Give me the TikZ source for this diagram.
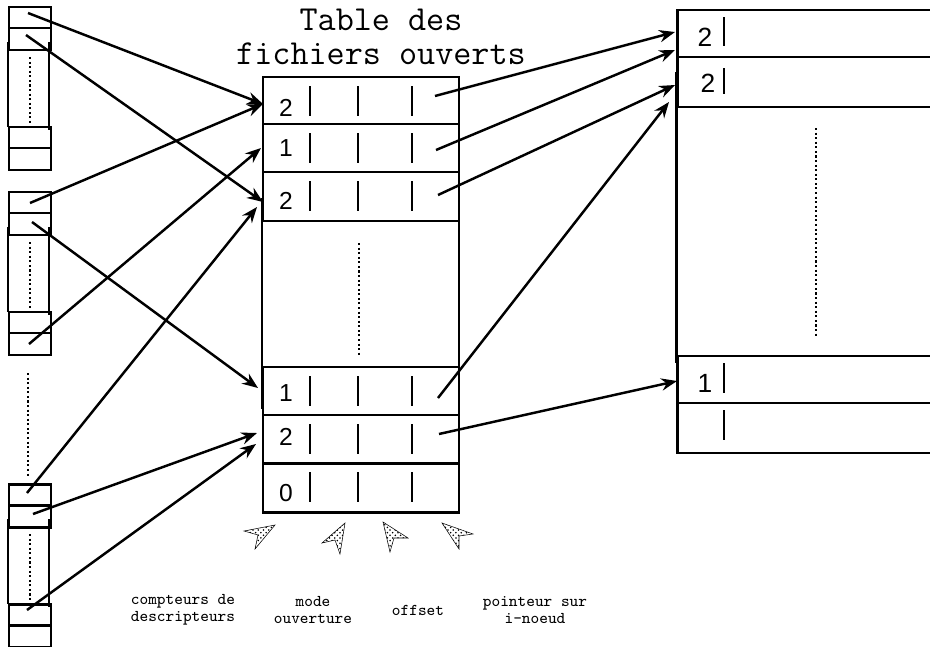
\documentclass[tikz,border=0pt]{standalone}
\usepackage{fontspec}
\setsansfont{Liberation Sans}
\usetikzlibrary{arrows.meta,patterns}

\begin{document}
\begin{tikzpicture}[x=0.02cm,y=-0.02cm,
    trait/.style={line width=1.7pt},
    fleche/.style={line width=1.4pt,-{Stealth[length=9pt,width=7pt,inset=3pt]}},
    barre/.style={line width=1.2pt},
    pointille/.style={line width=1.3pt,dash pattern=on 1.2pt off 1.4pt},
    pointe/.style={draw,line width=0.3pt,pattern=crosshatch dots},
    compteur/.style={font=\sffamily\fontsize{14}{14}\selectfont},
    legende/.style={font=\ttfamily\fontsize{9.4}{9.4}\selectfont,align=center}]
    \useasboundingbox (0,0) rectangle (930,646);

    % tables des descripteurs
    \foreach \y in {7,192,484}{
        \draw[trait] (9,\y) rectangle (51,\y+21) (9,\y+21) rectangle (51,\y+43)
            (9,\y+120) rectangle (51,\y+141) (9,\y+141) rectangle (51,\y+163);
        \draw[trait] (8,\y+35) -- (8,\y+120) (49,\y+35) -- (49,\y+123);
        \draw[pointille] (30,\y+50) -- (30,\y+116);
    }
    \draw[pointille] (28,373) -- (28,478);

    % table des fichiers ouverts
    \node[font=\ttfamily\fontsize{20}{19.5}\selectfont,align=center] (titre) at (381,37) {Table des\\fichiers ouverts};
    \draw[trait] (262,198) -- (262,409) (459,198) -- (459,409);
    \foreach \a/\b in {77/124,124/172,172/221,367/415,415/463,463/512}{
        \draw[trait] (263,\a) rectangle (459,\b);
        \foreach \x in {310,358,412} \draw[barre] (\x,\a+9) -- (\x,\a+39);
    }
    \draw[pointille] (359,243) -- (359,355);
    \node[compteur] (c1) at (286,108) {2};
    \node[compteur] (c2) at (286,148) {1};
    \node[compteur] (c3) at (286,201) {2};
    \node[compteur] (c5) at (286,393) {1};
    \node[compteur] (c6) at (286,437) {2};
    \node[compteur] (c7) at (286,493) {0};

    % table des i-noeuds
    \draw[trait] (677,10) rectangle (940,57) (677,57) rectangle (940,107)
        (677,356) rectangle (940,403) (677,403) rectangle (940,453);
    \draw[trait] (676,72) -- (676,363);
    \foreach \a/\b in {17/46,68/94,363/393,410/440} \draw[barre] (724,\a) -- (724,\b);
    \draw[pointille] (816,128) -- (816,338);
    \node[compteur,font=\sffamily\fontsize{15}{15}\selectfont] (n1) at (705,37) {2};
    \node[compteur,font=\sffamily\fontsize{15}{15}\selectfont] (n2) at (708,83) {2};
    \node[compteur,font=\sffamily\fontsize{15}{15}\selectfont] (n3) at (705,383) {1};

    % descripteurs -> fichiers ouverts
    \coordinate (d1a) at (28,13);  \coordinate (d1b) at (26,35);
    \coordinate (d2a) at (30,203); \coordinate (d2b) at (32,222); \coordinate (d2c) at (29,344);
    \coordinate (d3a) at (27,493); \coordinate (d3b) at (33,514); \coordinate (d3c) at (27,610);
    \coordinate (f1) at (263,104); \coordinate (f2) at (261,148);
    \coordinate (f3a) at (263,202); \coordinate (f3b) at (257,207);
    \coordinate (f5) at (258,388);
    \coordinate (f6a) at (257,433); \coordinate (f6b) at (256,444);
    \draw[fleche] (d1a) -- (f1);
    \draw[fleche] (d2a) -- (f1);
    \draw[fleche] (d2c) -- (f2);
    \draw[fleche] (d1b) -- (f3a);
    \draw[fleche] (d3a) -- (f3b);
    \draw[fleche] (d2b) -- (f5);
    \draw[fleche] (d3b) -- (f6a);
    \draw[fleche] (d3c) -- (f6b);

    % fichiers ouverts -> i-noeuds
    \coordinate (p1) at (435,96);  \coordinate (p2) at (436,150); \coordinate (p3) at (438,195);
    \coordinate (p5) at (438,398); \coordinate (p6) at (439,434);
    \coordinate (i1a) at (675,32); \coordinate (i1b) at (675,50);
    \coordinate (i2a) at (675,85); \coordinate (i2b) at (669,102);
    \coordinate (i3) at (677,381);
    \draw[fleche] (p1) -- (i1a);
    \draw[fleche] (p2) -- (i1b);
    \draw[fleche] (p3) -- (i2a);
    \draw[fleche] (p5) -- (i2b);
    \draw[fleche] (p6) -- (i3);

    % legende des colonnes
    \draw[pointe] (244,531) -- (275,525) -- (255,549) -- (258,535) -- cycle;
    \draw[pointe] (322,543) -- (345,523) -- (340,554) -- (335,540) -- cycle;
    \draw[pointe] (408,538) -- (383,522) -- (390,552) -- (394,538) -- cycle;
    \draw[pointe] (473,534) -- (442,523) -- (459,549) -- (459,536) -- cycle;
    \node[legende] (l1) at (183,610) {compteurs de\\descripteurs};
    \node[legende] (l2) at (313,610) {mode\\ouverture};
    \node[legende] (l3) at (418,610) {offset};
    \node[legende] (l4) at (535,610) {pointeur sur\\i-noeud};
\end{tikzpicture}
\end{document}
